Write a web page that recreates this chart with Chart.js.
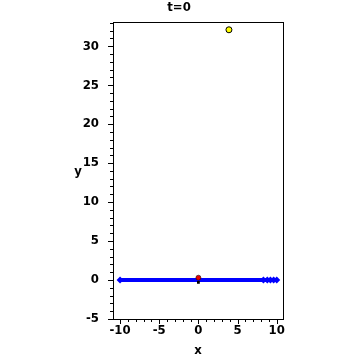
<!DOCTYPE html>
<html>
<head>
<meta charset="utf-8">
<script src="https://cdn.jsdelivr.net/npm/chart.js@4/dist/chart.umd.min.js"></script>
<style>
  body { margin: 0; background: #fff; }
  #wrap { width: 360px; height: 360px; }
</style>
</head>
<body>
<div id="wrap"><canvas id="plot"></canvas></div>
<script>
var titleText = "t=0";
var xLabel = "x";
var yLabel = "y";

// blue arrow along y = 0
var arrowX = [-10, 8.3, 8.8, 9.2, 9.6, 10];
var arrowY = [0, 0, 0, 0, 0, 0];
// particles
var redPt = [{ x: 0, y: 0.3 }];
var darkPt = [{ x: 0, y: -0.3 }];
var yellowPt = [{ x: 3.9, y: 32.1 }];

var xMajor = [-10, -5, 0, 5, 10];
var yMajor = [-5, 0, 5, 10, 15, 20, 25, 30];

var font = '"DejaVu Sans Condensed", "DejaVu Sans", sans-serif';

var arrowData = arrowX.map(function (x, i) { return { x: x, y: arrowY[i] }; });

var decor = {
  id: 'decor',
  afterDraw: function (chart) {
    var c = chart.ctx, a = chart.chartArea;
    var xs = chart.scales.x, ys = chart.scales.y;
    c.save();
    c.strokeStyle = '#000';
    c.lineWidth = 1;
    c.strokeRect(a.left + 0.5, a.top + 0.5, a.right - a.left, a.bottom - a.top);
    c.beginPath();
    for (var v = Math.ceil(xs.min); v <= xs.max; v++) {
      var px = Math.round(xs.getPixelForValue(v)) + 0.5;
      var len = xMajor.indexOf(v) >= 0 ? 5 : 3;
      c.moveTo(px, a.bottom); c.lineTo(px, a.bottom + len);
    }
    for (var w = Math.ceil(ys.min); w <= ys.max; w++) {
      var py = Math.round(ys.getPixelForValue(w)) + 0.5;
      var l2 = yMajor.indexOf(w) >= 0 ? 5 : 3;
      c.moveTo(a.left, py); c.lineTo(a.left - l2, py);
    }
    c.stroke();
    c.fillStyle = '#000';
    c.font = 'bold 13px ' + font;
    c.textAlign = 'center';
    c.textBaseline = 'middle';
    c.fillText(titleText, 179, 8);
    c.fillText(xLabel, 198, 351);
    c.fillText(yLabel, 78, 172);
    c.restore();
  }
};

new Chart(document.getElementById('plot'), {
  type: 'scatter',
  data: {
    datasets: [
      {
        data: arrowData,
        showLine: true,
        borderColor: 'rgb(0,0,255)',
        backgroundColor: 'rgb(0,0,255)',
        borderWidth: 4,
        pointStyle: 'rectRot',
        pointRadius: 3.5,
        pointBorderWidth: 0,
        order: 3
      },
      {
        data: darkPt,
        pointStyle: 'rect',
        pointRadius: 2,
        backgroundColor: '#000',
        borderWidth: 0,
        order: 2
      },
      {
        data: redPt,
        pointRadius: 2.5,
        backgroundColor: 'rgb(230,0,0)',
        borderColor: '#000',
        borderWidth: 0.5,
        order: 1
      },
      {
        data: yellowPt,
        pointRadius: 3,
        backgroundColor: 'rgb(255,255,0)',
        borderColor: '#000',
        borderWidth: 1,
        order: 1
      }
    ]
  },
  options: {
    responsive: true,
    maintainAspectRatio: false,
    animation: false,
    layout: { padding: { left: 0, right: 77, top: 22, bottom: 0 } },
    plugins: { legend: { display: false }, title: { display: false }, tooltip: { enabled: false } },
    scales: {
      x: {
        type: 'linear',
        min: -10.9,
        max: 10.8,
        afterFit: function (s) { s.height = 41; },
        border: { display: false },
        grid: { display: false },
        ticks: {
          autoSkip: false,
          includeBounds: false,
          stepSize: 5,
          maxRotation: 0,
          padding: -4,
          color: '#000',
          font: { family: font, size: 13, weight: 'bold' }
        }
      },
      y: {
        type: 'linear',
        min: -5,
        max: 33.1,
        afterFit: function (s) { s.width = 113; },
        border: { display: false },
        grid: { display: false },
        ticks: {
          autoSkip: false,
          includeBounds: false,
          stepSize: 5,
          padding: 6,
          color: '#000',
          font: { family: font, size: 13, weight: 'bold' }
        }
      }
    }
  },
  plugins: [decor]
});
</script>
</body>
</html>
